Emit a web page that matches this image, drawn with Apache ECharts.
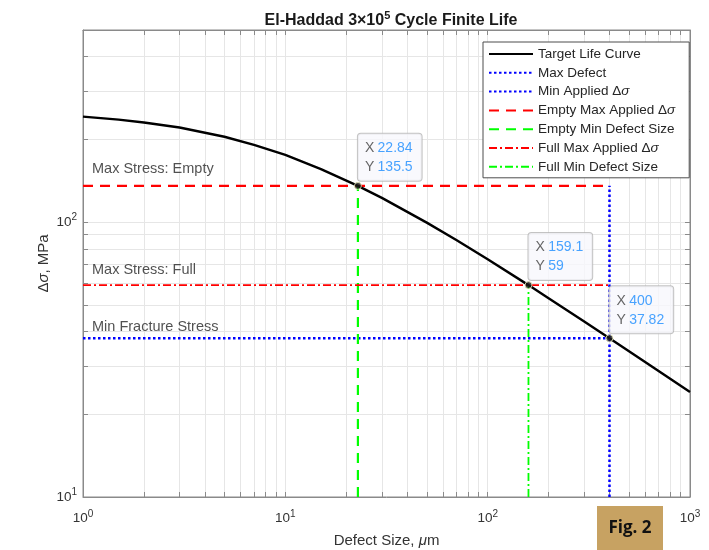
<!DOCTYPE html>
<html><head><meta charset="utf-8">
<script src="https://cdn.jsdelivr.net/npm/echarts@6/dist/echarts.min.js"></script>
<style>html,body{margin:0;padding:0;background:#fff}#c{width:709px;height:550px}</style>
</head><body><div id="c"></div>
<script>
// ---- data ----
const curveX = [1, 1.5, 2, 3, 5, 7, 10, 15, 22.84, 30, 50, 70, 100, 159.1, 200, 300, 400, 600, 1000];
const curveY = [242, 236, 230.5, 221, 204.5, 191, 175.5, 156, 135.5, 122.5, 99.6, 86.1, 73.3, 59, 52.9, 43.5, 37.82, 31.0, 24.1];
const xMin = 1, xMax = 1000, yMin = 10, yMax = 500;
const emptyMinDefect = 22.84, emptyMaxStress = 135.5;
const fullMinDefect = 159.1, fullMaxStress = 59;
const maxDefect = 400, minStress = 37.82;
const xMajorTicks = [1, 10, 100, 1000];
const xMinorTicks = [2, 3, 4, 5, 6, 7, 8, 9, 20, 30, 40, 50, 60, 70, 80, 90, 200, 300, 400, 500, 600, 700, 800, 900];
const yMajorTicks = [10, 100];
const yMinorTicks = [20, 30, 40, 50, 60, 70, 80, 90, 200, 300, 400];
const seriesNames = ['Target Life Curve', 'Max Defect', 'Min Applied Δσ', 'Empty Max Applied Δσ',
  'Empty Min Defect Size', 'Full Max Applied Δσ', 'Full Min Defect Size'];
const annotationTexts = ['Max Stress: Empty', 'Max Stress: Full', 'Min Fracture Stress'];
const titleText = 'El-Haddad 3×10{sup|5} Cycle Finite Life';

// ---- chart ----
const FONT = '"Liberation Sans", Arial, Helvetica, sans-serif';
const AX = '#8a8a8a', GRID = '#e6e6e6', TXT = '#333333';
const chart = echarts.init(document.getElementById('c'), null, {renderer: 'canvas'});

const supRich = {
  b: {fontSize: 13.5, color: TXT, fontFamily: FONT},
  s: {fontSize: 10, color: TXT, fontFamily: FONT, padding: [0, 0, 9, 0]}
};
function powFmt(v) {
  const e = Math.round(Math.log10(v));
  return '{b|10}{s|' + e + '}';
}
const allX = xMajorTicks.concat(xMinorTicks).sort((a, b) => a - b);
const allY = yMajorTicks.concat(yMinorTicks).sort((a, b) => a - b);
const nameRich = {t: {fontSize: 15, color: TXT, fontFamily: FONT}, i: {fontSize: 15, color: TXT, fontFamily: FONT, fontStyle: 'italic'}};

function xAx(pos, main) {
  return {
    type: 'log', logBase: 10, min: xMin, max: xMax, position: pos,
    axisLine: {show: true, onZero: false, lineStyle: {color: AX, width: 1}},
    axisTick: {show: true, inside: true, length: 5, customValues: allX, lineStyle: {color: AX}},
    axisLabel: main ? {show: true, customValues: xMajorTicks, formatter: powFmt, rich: supRich, margin: 12} : {show: false},
    splitLine: {show: main, lineStyle: {color: GRID, width: 1}},
    minorTick: {show: false}, minorSplitLine: {show: false},
    name: main ? '{t|Defect Size, }{i|μ}{t|m}' : '',
    nameLocation: 'middle', nameGap: 36, nameMoveOverlap: false,
    nameTextStyle: {rich: nameRich}
  };
}
function yAx(pos, main) {
  return {
    type: 'log', logBase: 10, min: yMin, max: yMax, position: pos,
    axisLine: {show: true, onZero: false, lineStyle: {color: AX, width: 1}},
    axisTick: {show: true, inside: true, length: 5, customValues: allY, lineStyle: {color: AX}},
    axisLabel: main ? {show: true, customValues: yMajorTicks, formatter: powFmt, rich: supRich, margin: 6} : {show: false},
    splitLine: {show: main, lineStyle: {color: GRID, width: 1}},
    minorTick: {show: false}, minorSplitLine: {show: false},
    name: main ? '{t|Δ}{i|σ}{t|, MPa}' : '',
    nameLocation: 'middle', nameGap: 32, nameRotate: 90, nameMoveOverlap: false,
    nameTextStyle: {rich: nameRich}
  };
}

function lineSeries(name, data, color, width, type, z) {
  return {
    name: name, type: 'line', data: data, symbol: 'none', showSymbol: false,
    lineStyle: {color: color, width: width, type: type, cap: 'butt'},
    itemStyle: {color: color}, z: z || 2, silent: true, animation: false
  };
}

const curveData = curveX.map((x, i) => [x, curveY[i]]);
const series = [
  lineSeries(seriesNames[0], curveData, '#000000', 2.4, 'solid', 5),
  lineSeries(seriesNames[1], [[maxDefect, yMin], [maxDefect, emptyMaxStress]], '#0000ff', 2.5, [2.5, 2.5], 3),
  lineSeries(seriesNames[2], [[xMin, minStress], [maxDefect, minStress]], '#0000ff', 2.5, [2.5, 2.5], 3),
  lineSeries(seriesNames[3], [[xMin, emptyMaxStress], [maxDefect, emptyMaxStress]], '#ff0000', 2.2, [10, 7], 3),
  lineSeries(seriesNames[4], [[emptyMinDefect, yMin], [emptyMinDefect, emptyMaxStress]], '#00ff00', 2.2, [10, 7], 3),
  lineSeries(seriesNames[5], [[xMin, fullMaxStress], [maxDefect, fullMaxStress]], '#ff0000', 1.8, [8, 3, 2, 3], 3),
  lineSeries(seriesNames[6], [[fullMinDefect, yMin], [fullMinDefect, fullMaxStress]], '#00ff00', 1.8, [8, 3, 2, 3], 3),
  {
    name: 'datatips', type: 'scatter', symbol: 'circle', symbolSize: 7, z: 10, animation: false,
    itemStyle: {color: '#1a1a1a', borderColor: '#f0f0c0', borderWidth: 1},
    data: [[emptyMinDefect, emptyMaxStress], [fullMinDefect, fullMaxStress], [maxDefect, minStress]],
    label: {
      show: true, position: [4, -1], align: 'left', verticalAlign: 'bottom',
      formatter: p => '{k|X} {v|' + p.value[0] + '}\n{k|Y} {v|' + p.value[1] + '}',
      backgroundColor: '#f8f8fc', borderColor: '#b4b4b4', borderWidth: 1, borderRadius: 3,
      padding: [5, 9, 4, 7], lineHeight: 19,
      rich: {
        k: {fontSize: 14, color: '#404040', fontFamily: FONT, lineHeight: 19},
        v: {fontSize: 14, color: '#1a8cff', fontFamily: FONT, lineHeight: 19}
      }
    }
  },
  {
    name: 'annotations', type: 'scatter', symbolSize: 0, z: 6, animation: false, silent: true,
    data: [
      {value: [xMin, emptyMaxStress], label: {formatter: annotationTexts[0], position: [9, -17]}},
      {value: [xMin, fullMaxStress], label: {formatter: annotationTexts[1], position: [9, -15]}},
      {value: [xMin, minStress], label: {formatter: annotationTexts[2], position: [9, -11]}}
    ],
    label: {show: true, align: 'left', verticalAlign: 'middle', fontSize: 14.5, color: '#262626', fontFamily: FONT}
  }
];

const option = {
  backgroundColor: '#ffffff',
  animation: false,
  textStyle: {fontFamily: FONT},
  title: {
    text: titleText, left: 386, top: 5, textAlign: 'center',
    textStyle: {
      fontSize: 16, fontWeight: 'bold', color: '#1a1a1a', fontFamily: FONT,
      rich: {sup: {fontSize: 11, fontWeight: 'bold', color: '#1a1a1a', fontFamily: FONT, padding: [0, 0, 10, 0]}}
    }
  },
  grid: {left: 83, right: 19, top: 30, bottom: 53, containLabel: false, outerBoundsMode: 'none',
         show: true, borderColor: AX, borderWidth: 1, backgroundColor: '#ffffff'},
  xAxis: [xAx('bottom', true), xAx('top', false)],
  yAxis: [yAx('left', true), yAx('right', false)],
  legend: {
    data: seriesNames, orient: 'vertical', left: 483, top: 42,
    itemWidth: 44, itemHeight: 14, itemGap: 4.8,
    padding: [5, 14, 4, 5], borderColor: '#4d4d4d', borderWidth: 1, backgroundColor: '#ffffff',
    selectedMode: false,
    itemStyle: {opacity: 0, borderWidth: 0},
    textStyle: {fontSize: 13.5, color: '#262626', fontFamily: FONT,
      rich: {i: {fontSize: 13.5, color: '#262626', fontFamily: FONT, fontStyle: 'italic'}}},
    formatter: n => n.replace('Δσ', 'Δ{i|σ}')
  },
  graphic: [{
    type: 'group', left: 597, top: 506,
    children: [
      {type: 'rect', shape: {x: 0, y: 0, width: 66, height: 44}, style: {fill: '#c7a262'}},
      {type: 'text', x: 33, y: 22, style: {text: 'Fig. 2', fontSize: 17, fontWeight: 'bold', fill: '#111',
        fontFamily: '"Open Sans", "Liberation Sans", sans-serif', align: 'center', verticalAlign: 'middle'}}
    ]
  }],
  series: series
};
chart.setOption(option);
</script>
</body></html>
